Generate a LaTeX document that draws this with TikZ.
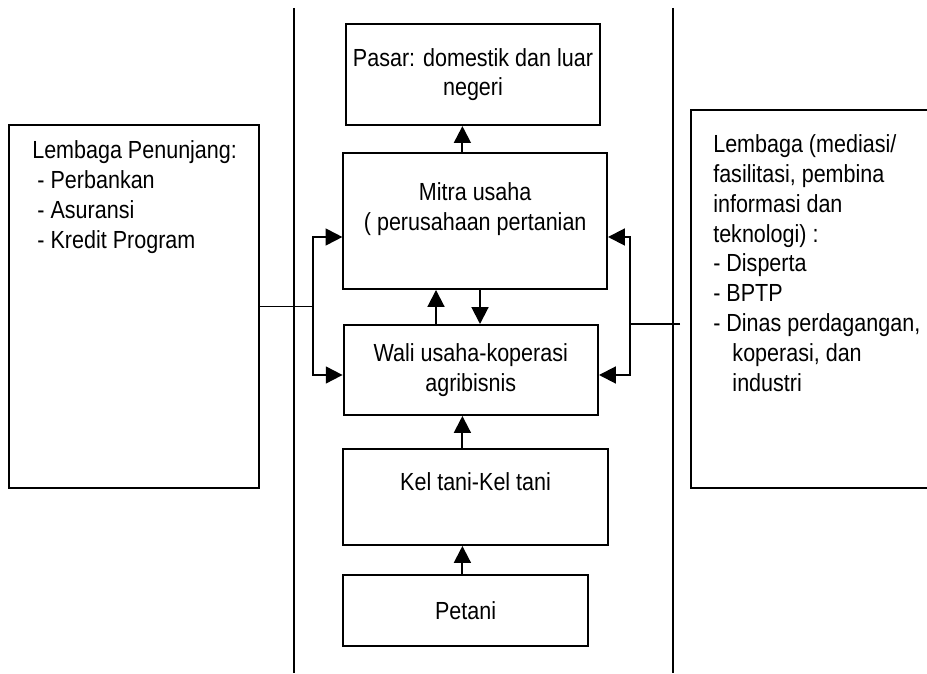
\documentclass[tikz,border=0pt]{standalone}
\usepackage{fontspec}
\setmainfont{Liberation Sans}[FakeStretch=0.87]
\usetikzlibrary{arrows.meta,positioning}

\begin{document}
\begin{tikzpicture}[
    box/.style={draw, line width=1.4pt, inner sep=0pt, align=center},
    txt/.style={inner sep=0pt, align=center},
    arr/.style={-{Triangle[length=4.2mm,width=4.2mm]}, line width=1.4pt},
    lnk/.style={line width=1.4pt},
    font=\fontsize{17.6}{21.3}\selectfont]
  \clip (0,0) rectangle (23.175,16.825);
  % garis pemisah
  \draw[lnk] (7.34,16.63) -- (7.34,0);
  \draw[lnk] (16.825,16.63) -- (16.825,0);
  % kotak tengah
  \node[box, minimum width=6.35cm, minimum height=2.525cm] (pasar) at (11.825,14.96) {Pasar: domestik dan luar\\ negeri};
  \node[box, minimum width=6.59cm, minimum height=3.4cm] (mitra) at (11.88,11.3) {};
  \node[txt, below=0.75cm of mitra.north] (mitratxt) {Mitra usaha\\ ( perusahaan pertanian};
  \node[box, minimum width=6.36cm, minimum height=2.25cm] (wali) at (11.77,7.575) {Wali usaha-koperasi\\ agribisnis};
  \node[box, minimum width=6.61cm, minimum height=2.4cm] (kel) at (11.89,4.4) {};
  \node[txt, below=0.6cm of kel.north] (keltxt) {Kel tani-Kel tani};
  \node[box, minimum width=6.11cm, minimum height=1.775cm] (petani) at (11.64,1.5625) {Petani};
  % kotak samping
  \node[box, minimum width=6.25cm, minimum height=9.075cm] (lbox) at (3.35,9.1625) {};
  \node[txt, align=left, anchor=north west] (lboxtxt) at (0.8,13.325) {Lembaga Penunjang:\\ \hspace*{0.13cm}- Perbankan\\ \hspace*{0.13cm}- Asuransi\\ \hspace*{0.13cm}- Kredit Program};
  \node[box, minimum width=6.725cm, minimum height=9.45cm] (rbox) at (20.6375,9.35) {};
  \node[txt, align=left, anchor=north west] (rboxtxt) at (17.825,13.475) {Lembaga (mediasi/\\ fasilitasi, pembina\\ informasi dan\\ teknologi) :\\ - Disperta\\ - BPTP\\ - Dinas perdagangan,\\ \hspace*{0.48cm}koperasi, dan\\ \hspace*{0.48cm}industri};
  % panah
  \coordinate (sp) at (11.56,0);
  \coordinate (up) at (10.9,0);
  \coordinate (dn) at (12.0,0);
  \coordinate (lb) at (7.825,0);
  \coordinate (rb) at (15.75,0);
  \coordinate (ya) at (0,10.9);
  \coordinate (yb) at (0,7.45);
  \coordinate (rend) at (17.0,8.725);
  \draw[arr] (sp |- mitra.north) -- (sp |- pasar.south);
  \draw[arr] (up |- wali.north) -- (up |- mitra.south);
  \draw[arr] (dn |- mitra.south) -- (dn |- wali.north);
  \draw[arr] (sp |- kel.north) -- (sp |- wali.south);
  \draw[arr] (sp |- petani.north) -- (sp |- kel.south);
  \draw[arr] (lbox.east) -| (lb |- ya) -- (mitra.west |- ya);
  \draw[arr] (lb |- lbox.east) |- (wali.west |- yb);
  \draw[arr] (rend) -| (rb |- ya) -- (mitra.east |- ya);
  \draw[arr] (rb |- rend) |- (wali.east |- yb);
\end{tikzpicture}
\end{document}
